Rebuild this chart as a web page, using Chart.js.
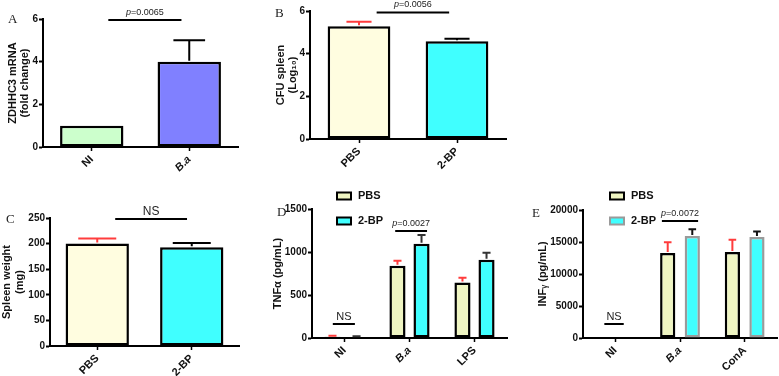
<!DOCTYPE html>
<html>
<head>
<meta charset="utf-8">
<script src="https://cdn.jsdelivr.net/npm/chart.js@4/dist/chart.umd.min.js"></script>
<style>
  body { margin: 0; width: 779px; height: 376px; position: relative; overflow: hidden; background: #fff; }
  .panel { position: absolute; }
  .tag { position: absolute; font-family: "Liberation Serif", "Times New Roman", serif; font-size: 13px; color: #222; line-height: 1; }
</style>
</head>
<body>
<div class="panel" style="left:0;top:0;width:250px;height:185px"><canvas id="chartA"></canvas></div>
<div class="panel" style="left:250px;top:0;width:258px;height:185px"><canvas id="chartB"></canvas></div>
<div class="panel" style="left:0;top:185px;width:250px;height:191px"><canvas id="chartC"></canvas></div>
<div class="panel" style="left:250px;top:185px;width:262px;height:191px"><canvas id="chartD"></canvas></div>
<div class="panel" style="left:512px;top:185px;width:267px;height:191px"><canvas id="chartE"></canvas></div>
<div class="tag" style="left:8px;top:12px">A</div>
<div class="tag" style="left:275px;top:6px">B</div>
<div class="tag" style="left:6px;top:212px">C</div>
<div class="tag" style="left:277px;top:205px">D</div>
<div class="tag" style="left:532px;top:206px">E</div>
<script>
// panel A - ZDHHC3 expression
var groupsA = ["NI", "B.a"];
var foldA = [1, 4];
var foldErrA = [0, 1];

// panels B and C - PBS vs 2-BP
var groupsBC = ["PBS", "2-BP"];
var cfuB = [5.28, 4.58];
var cfuErrB = [0.22, 0.12];
var weightC = [200, 193];
var weightErrC = [10, 8];

// panel D - TNFa
var stimD = ["NI", "B.a", "LPS"];
var tnfPBS = [15, 840, 645];
var tnfPBSErr = [12, 58, 56];
var tnf2BP = [12, 1095, 910];
var tnf2BPErr = [8, 103, 82];

// panel E - INFg
var stimE = ["NI", "B.a", "ConA"];
var infPBS = [0, 13300, 13450];
var infPBSErr = [0, 1650, 1900];
var inf2BP = [60, 15950, 15800];
var inf2BPErr = [0, 1050, 850];

var AX = "#000";
var RED = "#ff3c3c";
var SANS = "'Liberation Sans', Arial, sans-serif";

var errorBars = {
  id: "errorBars",
  afterDatasetsDraw: function (chart, args, opts) {
    var ctx = chart.ctx;
    var y = chart.scales.y;
    chart.data.datasets.forEach(function (ds, i) {
      if (!ds.errors) return;
      chart.getDatasetMeta(i).data.forEach(function (bar, j) {
        var err = ds.errors[j];
        if (!err) return;
        var top = y.getPixelForValue(ds.data[j] + err);
        var half = bar.width * (opts.cap || 0.5) / 2;
        ctx.save();
        ctx.strokeStyle = Array.isArray(ds.errorColor) ? ds.errorColor[j] : ds.errorColor;
        ctx.lineWidth = 2;
        ctx.beginPath();
        ctx.moveTo(bar.x, bar.y - 1);
        ctx.lineTo(bar.x, top);
        ctx.moveTo(bar.x - half, top);
        ctx.lineTo(bar.x + half, top);
        ctx.stroke();
        ctx.restore();
      });
    });
  }
};

var sigMarks = {
  id: "sigMarks",
  afterDraw: function (chart, args, opts) {
    var ctx = chart.ctx;
    var x = chart.scales.x, y = chart.scales.y;
    (opts.items || []).forEach(function (m) {
      var x0 = x.getPixelForValue(m.from), x1 = x.getPixelForValue(m.to);
      var yy = y.getPixelForValue(m.at);
      ctx.save();
      ctx.strokeStyle = "#000";
      ctx.lineWidth = 2;
      ctx.beginPath();
      ctx.moveTo(x0, yy);
      ctx.lineTo(x1, yy);
      ctx.stroke();
      ctx.fillStyle = "#222";
      ctx.textBaseline = "alphabetic";
      var cx = (x0 + x1) / 2;
      if (m.p) {
        ctx.font = "italic 9px " + SANS;
        var w1 = ctx.measureText("p").width;
        ctx.font = "9px " + SANS;
        var w2 = ctx.measureText("=" + m.p).width;
        var sx = cx - (w1 + w2) / 2;
        ctx.font = "italic 9px " + SANS;
        ctx.fillText("p", sx, yy - 5);
        ctx.font = "9px " + SANS;
        ctx.fillText("=" + m.p, sx + w1, yy - 5);
      } else {
        ctx.font = (m.size || 12) + "px " + SANS;
        ctx.textAlign = "center";
        ctx.fillText("NS", cx, yy - 4);
      }
      ctx.restore();
    });
  }
};

var boxLegend = {
  id: "boxLegend",
  afterDraw: function (chart, args, opts) {
    if (!opts.x) return;
    var ctx = chart.ctx;
    chart.data.datasets.forEach(function (ds, i) {
      var cy = opts.y + i * 25;
      ctx.save();
      ctx.fillStyle = ds.backgroundColor;
      ctx.fillRect(opts.x, cy - 3.5, 14, 7);
      ctx.strokeStyle = ds.borderColor;
      ctx.lineWidth = 2;
      ctx.strokeRect(opts.x, cy - 3.5, 14, 7);
      ctx.fillStyle = "#111";
      ctx.font = "bold 11px " + SANS;
      ctx.textBaseline = "middle";
      ctx.fillText(ds.label, opts.x + 21, cy);
      ctx.restore();
    });
  }
};

Chart.register(errorBars, sigMarks, boxLegend);

function makeOptions(o) {
  return {
    responsive: true,
    maintainAspectRatio: false,
    animation: false,
    layout: { padding: { top: o.padTop, right: o.padRight, left: 0, bottom: 0 } },
    plugins: {
      legend: { display: false },
      tooltip: { enabled: false },
      errorBars: { cap: o.cap || 0.5 },
      sigMarks: { items: o.sig },
      boxLegend: o.legend || {}
    },
    scales: {
      x: {
        offset: true,
        afterFit: function (s) { s.height = o.xHeight; },
        grid: { display: true, offset: false, drawOnChartArea: false, drawTicks: true, tickLength: 4, tickWidth: 1.5, tickColor: AX },
        border: { display: true, color: AX, width: 2 },
        ticks: {
          color: "#111",
          minRotation: 45,
          maxRotation: 45,
          padding: 2,
          font: function (c) {
            var lab = c.tick ? c.tick.label : "";
            return { family: SANS, size: 11, weight: "bold", style: lab === "B.a" ? "italic" : "normal" };
          }
        }
      },
      y: {
        min: 0,
        max: o.max,
        afterFit: function (s) { s.width = o.yWidth; },
        grid: { display: true, drawOnChartArea: false, drawTicks: true, tickLength: 4, tickWidth: 2, tickColor: AX },
        border: { display: true, color: AX, width: 2 },
        ticks: {
          stepSize: o.step,
          color: "#111",
          padding: 1,
          font: { family: SANS, size: 10, weight: "bold" },
          callback: function (v) { return String(v); }
        },
        title: {
          display: true,
          text: o.title,
          color: "#111",
          padding: { top: o.titlePad, bottom: 0 },
          font: { family: SANS, size: 11, weight: "bold", lineHeight: o.titleLH || 1.1 }
        }
      }
    }
  };
}

new Chart(document.getElementById("chartA"), {
  type: "bar",
  data: {
    labels: groupsA,
    datasets: [{
      data: foldA,
      errors: foldErrA,
      errorColor: "#000",
      backgroundColor: ["#ccffcc", "#8080ff"],
      borderColor: "#000",
      borderWidth: 2.5,
      borderSkipped: false,
      barPercentage: 0.65,
      categoryPercentage: 1
    }]
  },
  options: makeOptions({
    padTop: 19, padRight: 12, xHeight: 38, yWidth: 43, max: 6, step: 2,
    title: ["ZDHHC3 mRNA", "(fold change)"], titlePad: 7,
    sig: [{ from: 0.17, to: 0.92, at: 5.95, p: "0.0065" }]
  })
});

new Chart(document.getElementById("chartB"), {
  type: "bar",
  data: {
    labels: groupsBC,
    datasets: [{
      data: cfuB,
      errors: cfuErrB,
      errorColor: [RED, "#000"],
      backgroundColor: ["#fffde0", "#40ffff"],
      borderColor: "#000",
      borderWidth: 2.5,
      borderSkipped: false,
      barPercentage: 0.64,
      categoryPercentage: 1
    }]
  },
  options: makeOptions({
    padTop: 11, padRight: 2, xHeight: 46, yWidth: 60, max: 6, step: 2, cap: 0.4,
    title: ["CFU spleen", "(Log\u2081\u2080)"], titlePad: 25,
    sig: [{ from: 0.18, to: 0.92, at: 5.93, p: "0.0056" }]
  })
});

new Chart(document.getElementById("chartC"), {
  type: "bar",
  data: {
    labels: groupsBC,
    datasets: [{
      data: weightC,
      errors: weightErrC,
      errorColor: [RED, "#000"],
      backgroundColor: ["#fffde0", "#40ffff"],
      borderColor: "#000",
      borderWidth: 2.5,
      borderSkipped: false,
      barPercentage: 0.67,
      categoryPercentage: 1
    }]
  },
  options: makeOptions({
    padTop: 33, padRight: 11, xHeight: 30, yWidth: 50, max: 250, step: 50, cap: 0.6,
    title: ["Spleen weight", "(mg)"], titlePad: 0, titleLH: 1.2,
    sig: [{ from: 0.19, to: 0.95, at: 248, size: 12 }]
  })
});

new Chart(document.getElementById("chartD"), {
  type: "bar",
  data: {
    labels: stimD,
    datasets: [{
      label: "PBS",
      data: tnfPBS,
      errors: tnfPBSErr,
      errorColor: RED,
      backgroundColor: "#eff5c2",
      borderColor: "#000",
      borderWidth: 2.5,
      borderSkipped: false,
      barPercentage: 0.67,
      categoryPercentage: 0.74
    }, {
      label: "2-BP",
      data: tnf2BP,
      errors: tnf2BPErr,
      errorColor: "#333",
      backgroundColor: "#40ffff",
      borderColor: "#000",
      borderWidth: 2.5,
      borderSkipped: false,
      barPercentage: 0.67,
      categoryPercentage: 0.74
    }]
  },
  options: makeOptions({
    padTop: 24, padRight: 5, xHeight: 38, yWidth: 62, max: 1500, step: 500,
    title: "TNF\u03b1 (pg/mL)", titlePad: 22,
    legend: { x: 87, y: 11 },
    sig: [
      { from: -0.18, to: 0.16, at: 163, size: 11 },
      { from: 0.78, to: 1.27, at: 1244, p: "0.0027" }
    ]
  })
});

new Chart(document.getElementById("chartE"), {
  type: "bar",
  data: {
    labels: stimE,
    datasets: [{
      label: "PBS",
      data: infPBS,
      errors: infPBSErr,
      errorColor: RED,
      backgroundColor: "#eff5c2",
      borderColor: "#000",
      borderWidth: 2.5,
      borderSkipped: false,
      barPercentage: 0.62,
      categoryPercentage: 0.76
    }, {
      label: "2-BP",
      data: inf2BP,
      errors: inf2BPErr,
      errorColor: "#111",
      backgroundColor: "#40ffff",
      borderColor: "#9a9a9a",
      borderWidth: 2.5,
      borderSkipped: false,
      barPercentage: 0.62,
      categoryPercentage: 0.76
    }]
  },
  options: makeOptions({
    padTop: 25, padRight: 2, xHeight: 38, yWidth: 71, max: 20000, step: 5000,
    title: "INF\u1d67 (pg/mL)", titlePad: 25,
    legend: { x: 98, y: 11 },
    sig: [
      { from: -0.17, to: 0.13, at: 2190, size: 11 },
      { from: 0.72, to: 1.28, at: 18281, p: "0.0072" }
    ]
  })
});
</script>
</body>
</html>
